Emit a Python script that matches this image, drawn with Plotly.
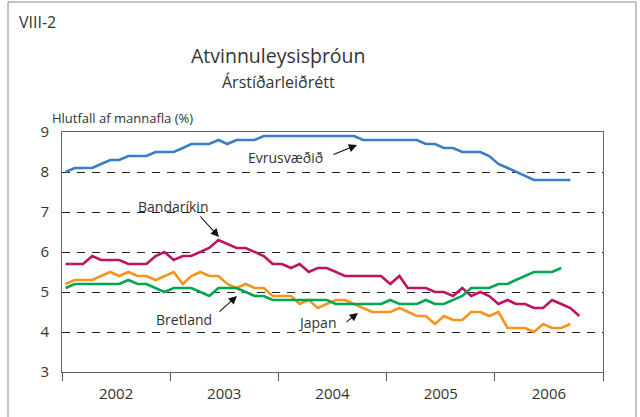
import pandas as pd
import plotly.graph_objects as go

# Monthly unemployment rates, seasonally adjusted (% of labour force), from Jan 2002
euro_area = [8.0, 8.1, 8.1, 8.1, 8.2, 8.3, 8.3, 8.4, 8.4, 8.4, 8.5, 8.5,
             8.5, 8.6, 8.7, 8.7, 8.7, 8.8, 8.7, 8.8, 8.8, 8.8, 8.9, 8.9,
             8.9, 8.9, 8.9, 8.9, 8.9, 8.9, 8.9, 8.9, 8.9, 8.8, 8.8, 8.8,
             8.8, 8.8, 8.8, 8.8, 8.7, 8.7, 8.6, 8.6, 8.5, 8.5, 8.5, 8.4,
             8.2, 8.1, 8.0, 7.9, 7.8, 7.8, 7.8, 7.8, 7.8]
usa = [5.7, 5.7, 5.7, 5.9, 5.8, 5.8, 5.8, 5.7, 5.7, 5.7, 5.9, 6.0,
       5.8, 5.9, 5.9, 6.0, 6.1, 6.3, 6.2, 6.1, 6.1, 6.0, 5.9, 5.7,
       5.7, 5.6, 5.7, 5.5, 5.6, 5.6, 5.5, 5.4, 5.4, 5.4, 5.4, 5.4,
       5.2, 5.4, 5.1, 5.1, 5.1, 5.0, 5.0, 4.9, 5.1, 4.9, 5.0, 4.9,
       4.7, 4.8, 4.7, 4.7, 4.6, 4.6, 4.8, 4.7, 4.6, 4.4]
japan = [5.2, 5.3, 5.3, 5.3, 5.4, 5.5, 5.4, 5.5, 5.4, 5.4, 5.3, 5.4,
         5.5, 5.2, 5.4, 5.5, 5.4, 5.4, 5.2, 5.1, 5.2, 5.1, 5.1, 4.9,
         4.9, 4.9, 4.7, 4.8, 4.6, 4.7, 4.8, 4.8, 4.7, 4.6, 4.5, 4.5,
         4.5, 4.6, 4.5, 4.4, 4.4, 4.2, 4.4, 4.3, 4.3, 4.5, 4.5, 4.4,
         4.5, 4.1, 4.1, 4.1, 4.0, 4.2, 4.1, 4.1, 4.2]
uk = [5.1, 5.2, 5.2, 5.2, 5.2, 5.2, 5.2, 5.3, 5.2, 5.2, 5.1, 5.0,
      5.1, 5.1, 5.1, 5.0, 4.9, 5.1, 5.1, 5.1, 5.0, 4.9, 4.9, 4.8,
      4.8, 4.8, 4.8, 4.8, 4.8, 4.8, 4.7, 4.7, 4.7, 4.7, 4.7, 4.7,
      4.8, 4.7, 4.7, 4.7, 4.8, 4.7, 4.7, 4.8, 4.9, 5.1, 5.1, 5.1,
      5.2, 5.2, 5.3, 5.4, 5.5, 5.5, 5.5, 5.6]

y_ticks = [3, 4, 5, 6, 7, 8, 9]

series = [
    ("Evrusvæðið", euro_area, "#3b7cc6"),
    ("Bandaríkin", usa, "#c0135f"),
    ("Japan", japan, "#f7941d"),
    ("Bretland", uk, "#00a651"),
]

W, H = 640, 417
ML, MR, MT, MB = 62, 37, 132, 45
PW, PH = W - ML - MR, H - MT - MB


def px(x):
    return (x - ML) / PW


def py(y):
    return (H - MB - y) / PH


def months(n):
    return pd.date_range("2002-01-01", periods=n, freq="MS") + pd.Timedelta(days=12)


fig = go.Figure()
for name, vals, color in series:
    fig.add_trace(go.Scatter(
        x=months(len(vals)), y=vals, name=name, mode="lines",
        line=dict(color=color, width=2.6), showlegend=False,
    ))

txt = "#333333"
font = "Open Sans"

fig.update_layout(
    width=W, height=H,
    margin=dict(l=ML, r=MR, t=MT, b=MB),
    paper_bgcolor="white", plot_bgcolor="white",
    font=dict(family=font, color=txt),
    xaxis=dict(
        type="date", range=["2002-01-01", "2007-01-01"],
        tick0="2002-01-01", dtick="M12", tickformat="%Y",
        ticklabelmode="period", ticks="outside", ticklen=8,
        tickcolor="#555555", showgrid=False, showline=True,
        linecolor="#666666", linewidth=1, mirror=True,
        tickfont=dict(size=15, color=txt),
    ),
    yaxis=dict(
        range=[3, 9], tickvals=y_ticks, ticks="", showgrid=True,
        gridcolor="#222222", gridwidth=1, griddash="8px,7px",
        showline=True, linecolor="#666666", linewidth=1, mirror=True,
        zeroline=False, ticklabelstandoff=9,
        tickfont=dict(size=15, color=txt),
    ),
)

# outer frame of the figure panel
fig.add_shape(type="rect", xref="paper", yref="paper",
              x0=px(8), x1=px(636), y0=py(430), y1=py(2),
              line=dict(color="#8a8a8a", width=1), layer="below")

texts = [
    ("VIII-2", 17, 22, 16, "left"),
    ("Atvinnuleysisþróun", 278, 55, 19.5, "center"),
    ("Árstíðarleiðrétt", 278, 82, 16, "center"),
    ("Hlutfall af mannafla (%)", 50, 118, 13, "left"),
    ("Evrusvæðið", 285, 157, 14, "center"),
    ("Bandaríkin", 173, 206, 14, "center"),
    ("Bretland", 184, 319, 14, "center"),
    ("Japan", 317, 322, 14, "center"),
]
for t, x, y, s, al in texts:
    fig.add_annotation(text=t, x=px(x), y=py(y), xref="paper", yref="paper",
                       xanchor=al, yanchor="middle", showarrow=False,
                       font=dict(size=s, color=txt, family=font))

# pointer arrows from labels to lines
arrows = [
    (357, 145, -25, 10),
    (219, 237, -20, -22),
    (237, 296, -19, 17),
    (358, 313, -13, 10),
]
for x, y, ax, ay in arrows:
    fig.add_annotation(text="", x=px(x), y=py(y), xref="paper", yref="paper",
                       ax=ax, ay=ay, showarrow=True, arrowhead=2,
                       arrowsize=1.5, arrowwidth=1.1, arrowcolor="#111111")

fig.write_html("out.html")
